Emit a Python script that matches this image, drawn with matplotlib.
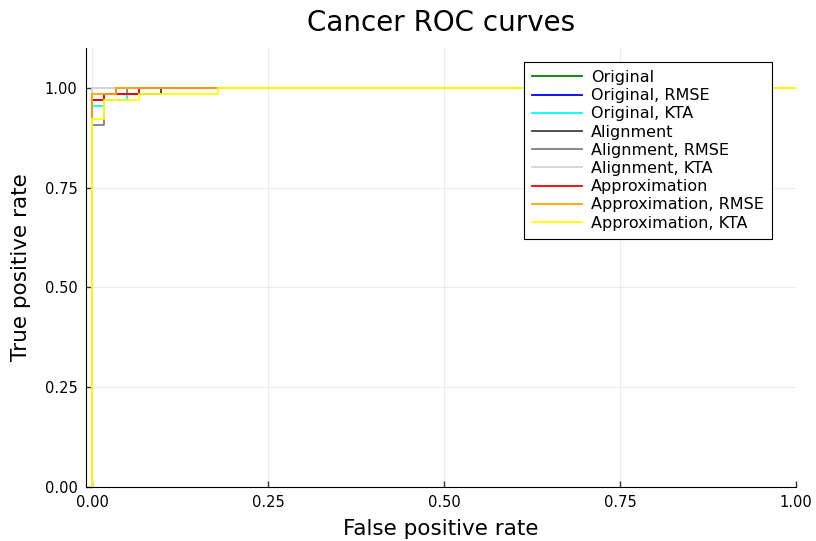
import matplotlib
matplotlib.use("Agg")
import matplotlib.pyplot as plt

labels = ["Original", "Original, RMSE", "Original, KTA", "Alignment", "Alignment, RMSE",
          "Alignment, KTA", "Approximation", "Approximation, RMSE", "Approximation, KTA"]
colors = ["green", "blue", "cyan", "#404040", "gray", "lightgray", "red", "orange", "yellow"]

fpr_orig = [0, 0, 0.017, 0.017, 0.034, 0.034, 1]
tpr_orig = [0, 0.969, 0.969, 0.985, 0.985, 1, 1]
fpr_orig_rmse = [0, 0, 0.017, 0.017, 0.034, 0.034, 1]
tpr_orig_rmse = [0, 0.969, 0.969, 0.985, 0.985, 1, 1]
fpr_orig_kta = [0, 0, 0.017, 0.017, 0.05, 0.05, 0.067, 0.067, 1]
tpr_orig_kta = [0, 0.954, 0.954, 0.969, 0.969, 0.985, 0.985, 1, 1]
fpr_align = [0, 0, 0.017, 0.017, 0.098, 0.098, 1]
tpr_align = [0, 0.969, 0.969, 0.985, 0.985, 1, 1]
fpr_align_rmse = [0, 0, 0.017, 0.017, 0.05, 0.05, 1]
tpr_align_rmse = [0, 0.908, 0.908, 0.985, 0.985, 1, 1]
fpr_align_kta = [0, 0, 0.034, 1]
tpr_align_kta = [0, 1, 1, 1]
fpr_approx = [0, 0, 0.017, 0.017, 0.067, 0.067, 1]
tpr_approx = [0, 0.969, 0.969, 0.985, 0.985, 1, 1]
fpr_approx_rmse = [0, 0, 0.034, 0.034, 1]
tpr_approx_rmse = [0, 0.985, 0.985, 1, 1]
fpr_approx_kta = [0, 0, 0.017, 0.017, 0.067, 0.067, 0.179, 0.179, 1]
tpr_approx_kta = [0, 0.923, 0.923, 0.969, 0.969, 0.985, 0.985, 1, 1]

fprs = [fpr_orig, fpr_orig_rmse, fpr_orig_kta, fpr_align, fpr_align_rmse, fpr_align_kta,
        fpr_approx, fpr_approx_rmse, fpr_approx_kta]
tprs = [tpr_orig, tpr_orig_rmse, tpr_orig_kta, tpr_align, tpr_align_rmse, tpr_align_kta,
        tpr_approx, tpr_approx_rmse, tpr_approx_kta]

xticks = [0.0, 0.25, 0.5, 0.75, 1.0]
yticks = [0.0, 0.25, 0.5, 0.75, 1.0]

fig = plt.figure(figsize=(8.16, 5.41), dpi=100)
ax = fig.add_axes([0.1054, 0.0998, 0.8701, 0.8115])
for f, t, c, l in zip(fprs, tprs, colors, labels):
    ax.plot(f, t, color=c, lw=1.3, label=l)

ax.set_xlim(-0.0085, 1.0)
ax.set_ylim(0, 1.1)
ax.set_xticks(xticks)
ax.set_xticklabels([f"{v:.2f}" for v in xticks])
ax.set_yticks(yticks)
ax.set_yticklabels([f"{v:.2f}" for v in yticks])
ax.tick_params(direction="in", length=4, width=1, labelsize=10.5, color="#333333", pad=6)
ax.grid(True, color="black", alpha=0.08, lw=0.8)
ax.spines["top"].set_visible(False)
ax.spines["right"].set_visible(False)
ax.set_xlabel("False positive rate", fontsize=15.5, labelpad=6)
ax.set_ylabel("True positive rate", fontsize=15.5, labelpad=10)
ax.set_title("Cancer ROC curves", fontsize=20, pad=12)

leg = ax.legend(loc="upper right", bbox_to_anchor=(772/816, 1-62/541),
                bbox_transform=fig.transFigure, fontsize=11.5, fancybox=False,
                framealpha=1, edgecolor="black", borderaxespad=0, labelspacing=0.2,
                handlelength=3.1, borderpad=0.5, handletextpad=0.6)
leg.get_frame().set_linewidth(0.8)

fig.savefig("out.png", dpi=100)
